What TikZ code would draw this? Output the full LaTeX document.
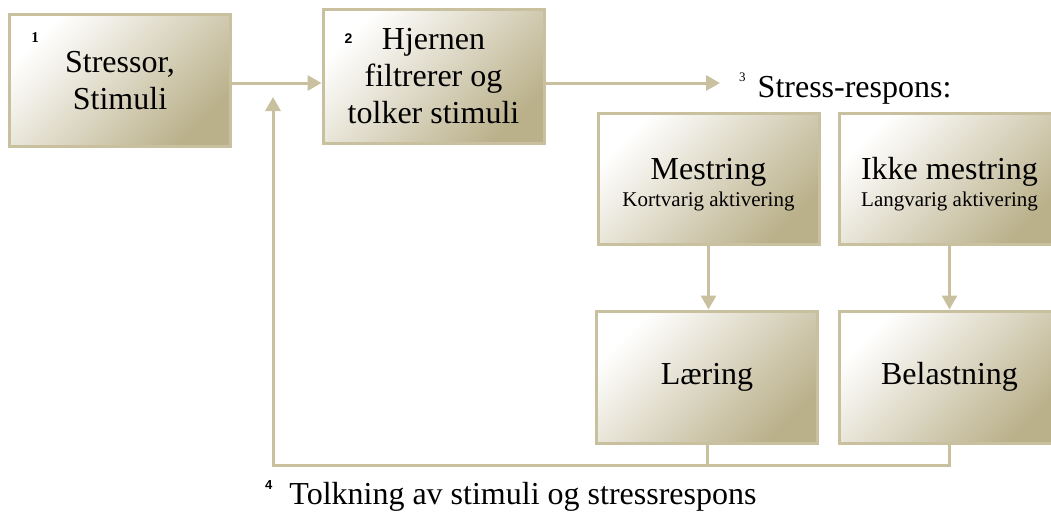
\documentclass[tikz,border=0pt]{standalone}
\usepackage{fontspec}
\setmainfont{Liberation Serif}
\newfontfamily\supsans{Liberation Sans}
\usetikzlibrary{arrows.meta}
\definecolor{tanline}{HTML}{C8C09E}
\definecolor{tandark}{HTML}{BAB08A}
\tikzset{
  box/.style={draw=tanline, line width=3pt, top color=white, bottom color=tandark,
    shading angle=45, minimum width=221pt, minimum height=131pt, align=center,
    inner sep=0pt, font=\fontsize{32}{37}\selectfont},
  conn/.style={draw=tanline, line width=3pt},
  arr/.style={conn, -{Triangle[length=14pt,width=15pt]}},
  supnum/.style={inner sep=0pt, font=\supsans\bfseries\fontsize{14}{14}\selectfont},
  lbl/.style={inner sep=0pt, anchor=base west, font=\fontsize{32}{37}\selectfont}
}
\begin{document}
\begin{tikzpicture}[x=1pt,y=-1pt]
\useasboundingbox (0,0) rectangle (1051,511);
\clip (0,0) rectangle (1051,511);
\fill[white] (0,0) rectangle (1051,511);

\node[box] (b1) at (120,80.5) {Stressor,\\Stimuli};
\node[box, minimum height=133pt] (b2) at (433.5,76.5) {Hjernen\\filtrerer og\\tolker stimuli};
\node[box, font=\fontsize{21}{27}\selectfont] (mest) at (708.5,178.5)
  {{\fontsize{32}{27}\selectfont\rule{0pt}{33pt}Mestring}\\Kortvarig aktivering};
\node[box, font=\fontsize{21}{27}\selectfont] (ikke) at (949.5,178.5)
  {{\fontsize{32}{27}\selectfont\rule{0pt}{33pt}Ikke mestring}\\Langvarig aktivering};
\node[box, minimum height=132pt] (laer) at (707,377) {Læring};
\node[box, minimum height=132pt] (bel) at (949.5,377) {Belastning};

\node[inner sep=0pt, font=\bfseries\fontsize{15}{15}\selectfont] (n1) at (35,37.5) {1};
\node[supnum] (n2) at (348.5,39) {2};

\node[lbl] (stress) at (739,97)
  {\raisebox{16pt}{\fontsize{13}{13}\selectfont 3}\hspace{12pt}Stress-respons:};
\node[lbl] (tolk) at (265,504)
  {\raisebox{15pt}{\supsans\bfseries\fontsize{13}{13}\selectfont 4}\hspace{17pt}Tolkning av stimuli og stressrespons};

\coordinate (sr) at (720,83);
\coordinate (fbc) at (273,465);
\coordinate (fbtip) at (273,97);

\draw[arr] (b1.east |- sr) -- (b2.west |- sr);
\draw[arr] (b2.east |- sr) -- (sr);
\draw[arr] (mest.south) -- (mest.south |- laer.north);
\draw[arr] (ikke.south) -- (ikke.south |- bel.north);
\draw[conn] (laer.south) -- (laer.south |- fbc);
\draw[arr] (bel.south) |- (fbc) -- (fbtip);
\end{tikzpicture}
\end{document}
